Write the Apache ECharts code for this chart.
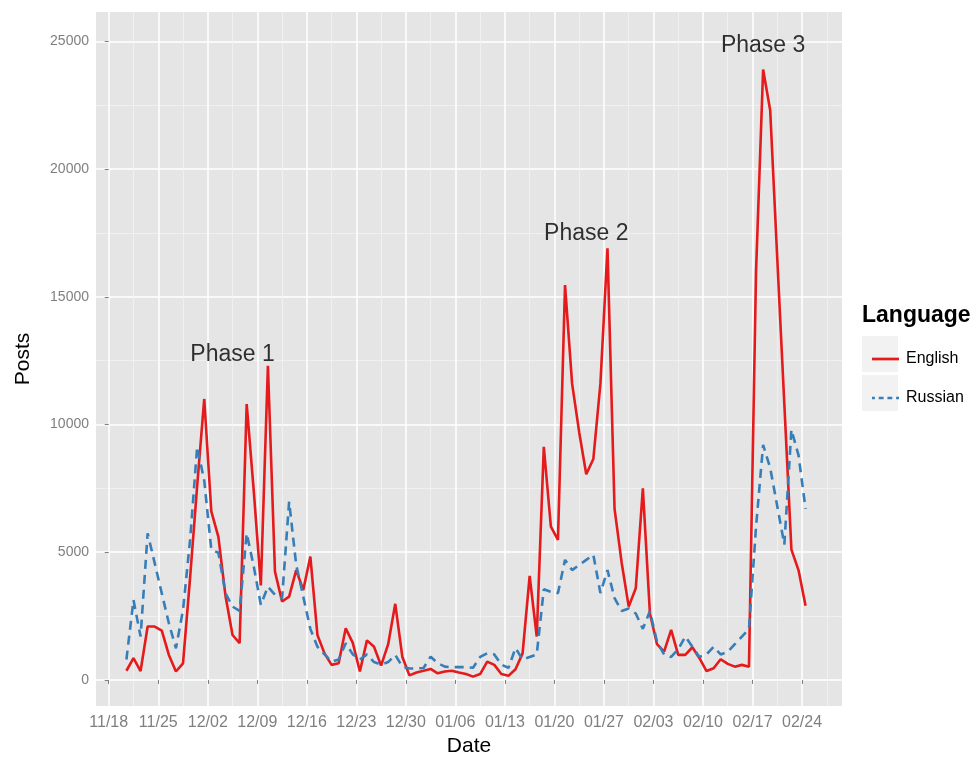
<!DOCTYPE html>
<html><head><meta charset="utf-8">
<script src="https://cdn.jsdelivr.net/npm/echarts@6/dist/echarts.min.js"></script>
<style>html,body{margin:0;padding:0;background:#fff}#c{width:974px;height:757px}</style>
</head><body><div id="c"></div>
<script>
// ---- data ----
const startDate = '2013-11-21';
const english = [
  360, 850, 350, 2090, 2090, 1930, 980, 330, 650, 4000,
  7600, 11000, 6600, 5600, 3300, 1760, 1440, 10800, 7400, 3700,
  12300, 4240, 3070, 3260, 4300, 3520, 4830, 1760, 1040, 590,
  650, 2020, 1450, 330, 1550, 1300, 560, 1400, 2980, 910,
  180, 290, 360, 430, 260, 330, 360, 290, 230, 130,
  230, 720, 590, 230, 160, 420, 1040, 4070, 1700, 9130,
  6000, 5480, 15460, 11600, 9700, 8050, 8650, 11600, 16900, 6700,
  4600, 2870, 3590, 7500, 2600, 1400, 1110, 1960, 980, 980,
  1280, 850, 350, 460, 810, 630, 520, 590, 520, 16000,
  23900, 22300, 16500, 10800, 5100, 4300, 2900
];
const russian = [
  800, 3130, 1700, 5740, 4570, 3390, 2220, 1240, 2740, 5480,
  9130, 7800, 5100, 4980, 3400, 2870, 2700, 5740, 4440, 2940,
  3650, 3330, 3200, 6980, 4500, 3260, 2000, 1300, 1000, 720,
  800, 1440, 1000, 800, 1000, 700, 600, 700, 980, 520,
  450, 450, 470, 910, 660, 520, 500, 500, 500, 480,
  900, 1040, 1000, 600, 470, 1250, 800, 900, 1000, 3550,
  3450, 3400, 4700, 4300, 4500, 4700, 4900, 3400, 4300, 3200,
  2700, 2800, 2600, 2000, 2700, 1500, 1000, 900, 1200, 1700,
  1300, 900, 1000, 1300, 1000, 1100, 1400, 1700, 2000, 6000,
  9200, 8300, 6800, 5300, 9800, 8800, 6700
];
const seriesNames = ['English', 'Russian'];
const xTickLabels = ['11/18','11/25','12/02','12/09','12/16','12/23','12/30','01/06','01/13','01/20','01/27','02/03','02/10','02/17','02/24'];
const yTickValues = [0, 5000, 10000, 15000, 20000, 25000];
const phaseLabels = ['Phase 1', 'Phase 2', 'Phase 3'];
const phaseDates = ['2013-12-06', '2014-01-25', '2014-02-19'];
const phaseValues = [12730, 17460, 24830];

// ---- helpers ----
const DAY = 86400000;
const ORIGIN = Date.UTC(2013, 10, 18);
function dayNum(iso) { const p = iso.split('-').map(Number); return (Date.UTC(p[0], p[1] - 1, p[2]) - ORIGIN) / DAY; }
function tickDay(lbl) { const p = lbl.split('/').map(Number); const y = p[0] >= 7 ? 2013 : 2014; return (Date.UTC(y, p[0] - 1, p[1]) - ORIGIN) / DAY; }
const SHIFT = -0.5; // points sit half a day before the date ticks
const startDay = dayNum(startDate);
const engData = english.map((v, i) => [startDay + i + SHIFT, v]);
const rusData = russian.map((v, i) => [startDay + i + SHIFT, v]);
const phaseData = phaseLabels.map((l, i) => [dayNum(phaseDates[i]) + SHIFT, phaseValues[i], l]);

const X_MIN = -1.8, X_MAX = 103.65, Y_MIN = -1020, Y_MAX = 26150;
const xMajor = xTickLabels.map(tickDay);
const xMinor = [];
for (let i = -1; i < xMajor.length; i++) {
  const a = i < 0 ? xMajor[0] - 7 : xMajor[i];
  const m = a + 3.5;
  if (m > X_MIN && m < X_MAX) xMinor.push(m);
}
const yMinor = [];
for (let i = -1; i < yTickValues.length; i++) {
  const a = i < 0 ? -5000 : yTickValues[i];
  const m = a + 2500;
  if (m > Y_MIN && m < Y_MAX) yMinor.push(m);
}
const labelByDay = {};
xMajor.forEach((d, i) => { labelByDay[Math.round(d)] = xTickLabels[i]; });

const GREY = '#7F7F7F';
const ICON_SOLID = 'path://M0,0H26V2.6H0Z';
const ICON_DASH = 'path://M0,0H3V2.6H0Z M7,0H12V2.6H7Z M16,0H21V2.6H16Z M25,0H28V2.6H25Z';
const chart = echarts.init(document.getElementById('c'), null, { renderer: 'canvas' });
chart.setOption({
  animation: false,
  grid: { left: 96, right: 132, top: 12, bottom: 51, show: true, backgroundColor: '#E5E5E5', borderWidth: 0, outerBoundsMode: 'none', containLabel: false },
  xAxis: [
    {
      type: 'value', min: X_MIN, max: X_MAX,
      axisLine: { show: false },
      axisTick: { show: true, customValues: xMajor, length: 4, lineStyle: { color: GREY, width: 1 } },
      axisLabel: { customValues: xMajor, formatter: v => labelByDay[Math.round(v)] || '', color: GREY, fontSize: 16, fontFamily: 'Liberation Sans', margin: 9 },
      splitLine: { show: true, lineStyle: { color: '#FFFFFF', width: 1.5 } },
      name: 'Date', nameLocation: 'middle', nameGap: 30,
      nameTextStyle: { fontSize: 21, color: '#000', fontFamily: 'Liberation Sans' }
    },
    {
      type: 'value', min: X_MIN, max: X_MAX, position: 'bottom',
      axisLine: { show: false },
      axisTick: { show: false, customValues: xMinor },
      axisLabel: { show: false, customValues: xMinor },
      splitLine: { show: true, lineStyle: { color: '#F2F2F2', width: 0.8 } }
    }
  ],
  yAxis: [
    {
      type: 'value', min: Y_MIN, max: Y_MAX,
      axisLine: { show: false },
      axisTick: { show: true, customValues: yTickValues, length: 4, lineStyle: { color: GREY, width: 1 } },
      axisLabel: { customValues: yTickValues, formatter: v => String(v), color: GREY, fontSize: 14, fontFamily: 'Liberation Sans', margin: 7 },
      splitLine: { show: true, lineStyle: { color: '#FFFFFF', width: 1.5 } },
      name: 'Posts', nameLocation: 'middle', nameGap: 62,
      nameTextStyle: { fontSize: 21, color: '#000', fontFamily: 'Liberation Sans' }
    },
    {
      type: 'value', min: Y_MIN, max: Y_MAX, position: 'left',
      axisLine: { show: false },
      axisTick: { show: false, customValues: yMinor },
      axisLabel: { show: false, customValues: yMinor },
      splitLine: { show: true, lineStyle: { color: '#F2F2F2', width: 0.8 } }
    }
  ],
  legend: {
    data: [
      { name: seriesNames[0], icon: ICON_SOLID, itemStyle: { color: '#E41A1C' } },
      { name: seriesNames[1], icon: ICON_DASH, itemStyle: { color: '#377EB8' } }
    ],
    orient: 'vertical', left: 867, top: 346,
    itemWidth: 27, itemHeight: 16, itemGap: 23,
    textStyle: { fontSize: 16, color: '#000', fontFamily: 'Liberation Sans', padding: [0, 0, 0, 2] }
  },
  graphic: [
    { type: 'rect', left: 862, top: 336, shape: { width: 36, height: 36 }, style: { fill: '#F2F2F2' }, z: -1 },
    { type: 'rect', left: 862, top: 375, shape: { width: 36, height: 36 }, style: { fill: '#F2F2F2' }, z: -1 },
    { type: 'text', left: 862, top: 304, style: { text: 'Language', font: 'bold 23px "Liberation Sans"', fill: '#000' } }
  ],
  series: [
    { name: seriesNames[0], type: 'line', data: engData, symbol: 'none', lineStyle: { color: '#E41A1C', width: 2.6 }, itemStyle: { color: '#E41A1C' }, z: 3 },
    { name: seriesNames[1], type: 'line', data: rusData, symbol: 'none', lineStyle: { color: '#377EB8', width: 2.6, type: [9, 6] }, itemStyle: { color: '#377EB8' }, z: 4 },
    { name: 'phases', type: 'scatter', data: phaseData, symbolSize: 0, silent: true, z: 5,
      label: { show: true, position: 'inside', formatter: p => p.data[2], fontSize: 23, color: '#000', fontFamily: 'Liberation Sans' } }
  ]
});
</script></body></html>
